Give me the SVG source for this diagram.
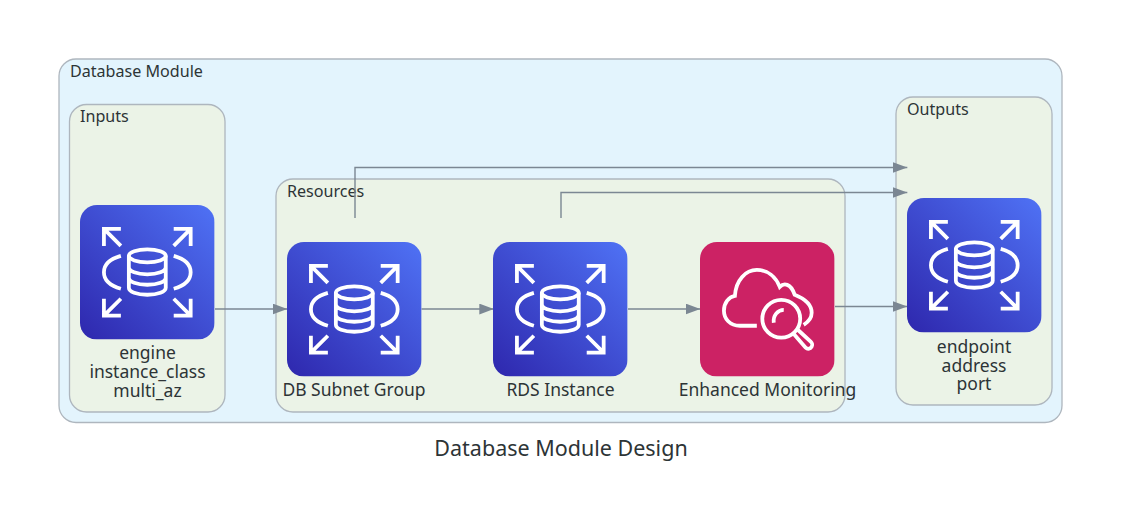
<svg xmlns="http://www.w3.org/2000/svg" width="1121" height="516" viewBox="0 0 1121 516">
<style>
text{font-family:"Noto Sans","DejaVu Sans",sans-serif;fill:#2d3436}
.c{fill:#ebf3e7;stroke:#aeb6be;stroke-width:1.3}
.o{fill:#e3f4fd;stroke:#aeb6be;stroke-width:1.3}
.cl{font-size:16.100px}
.n{font-size:17.500px;text-anchor:middle}
.e{fill:none;stroke:#7b8793;stroke-width:1.4}
.i{fill:none;stroke:#fff;stroke-width:3.800}
</style>
<defs>
<linearGradient id="rdsg" x1="0" y1="1" x2="1" y2="0"><stop offset="0" stop-color="#2e27ad"/><stop offset="1" stop-color="#4f72f5"/></linearGradient>
<marker id="ah" markerUnits="userSpaceOnUse" markerWidth="15" markerHeight="11" refX="14.5" refY="5.4" orient="auto"><path d="M0,0L14.5,5.4L0,10.8z" fill="#7b8793"/></marker>
<symbol id="rds" width="134.600" height="134.600" viewBox="0 0 135 135">
<rect width="135" height="135" rx="17" fill="url(#rdsg)"/>
<g class="i">
<path d="M24,41V24H41M24,24L41,41M111,41V24H94M111,24L94,41M24,94V111H41M24,111L41,94M111,94V111H94M111,111L94,94"/>
<path d="M41,51C30,54 24,60 24,67.5C24,75 30,81 41,84M94,51C105,54 111,60 111,67.5C111,75 105,81 94,84"/>
<ellipse cx="67.5" cy="51" rx="18.500" ry="6.500"/>
<path d="M49,51V83C49,87 57,90 67.500,90C78,90 86,87 86,83V51M49,62.500C49,66.500 57,69.500 67.500,69.500C78,69.500 86,66.500 86,62.500M49,73C49,77 57,80 67.500,80C78,80 86,77 86,73"/>
</g>
</symbol>
<symbol id="mon" width="134.600" height="134.600" viewBox="0 0 135 135">
<rect width="135" height="135" rx="17" fill="#cc2264"/>
<g class="i">
<path d="M57,84H40C30,84 24,77 24,69C24,61 29,55 35,54C36,38 46,28 57,28C68,28 76,35 80,45C84,41 91,41 95,53C105,57 112,62 112,71C112,76 109,80 104,83"/>
<circle cx="81.500" cy="77" r="19"/>
<path d="M84,68C78,68 73,74 74,81"/>
<path d="M93,91L106,106C108,108 111,107 112,105C113,103 113,102 111,100L97,87"/>
</g>
</symbol>
</defs>
<g id="cluster-database-module"><rect class="o" x="59" y="59" width="1003" height="363.500" rx="17"/><text class="cl" x="70" y="76.500">Database Module</text></g>
<g id="cluster-inputs"><rect class="c" x="69.500" y="104.500" width="155.500" height="307.500" rx="17"/><text class="cl" x="80" y="122">Inputs</text></g>
<g id="cluster-resources"><rect class="c" x="276" y="179" width="569" height="233" rx="17"/><text class="cl" x="287" y="196.500">Resources</text></g>
<g id="cluster-outputs"><rect class="c" x="896" y="97" width="156" height="308" rx="17"/><text class="cl" x="907" y="115">Outputs</text></g>
<g id="connectors">
<path class="e" marker-end="url(#ah)" d="M215,309H287.300"/>
<path class="e" marker-end="url(#ah)" d="M421.500,309H493.800"/>
<path class="e" marker-end="url(#ah)" d="M628,309H700.300"/>
<path class="e" marker-end="url(#ah)" d="M835,306.500H907.300"/>
<path class="e" marker-end="url(#ah)" d="M355,218V167.500H907.300"/>
<path class="e" marker-end="url(#ah)" d="M561,218V192.500H907.300"/>
</g>
<g id="node-inputs"><use href="#rds" x="80" y="205"/><text class="n" x="147.500" y="359">engine</text><text class="n" x="147.500" y="378">instance_class</text><text class="n" x="147.500" y="396.500">multi_az</text></g>
<g id="node-db-subnet-group"><use href="#rds" x="287" y="242"/><text class="n" x="354" y="395.500">DB Subnet Group</text></g>
<g id="node-rds-instance"><use href="#rds" x="493" y="242"/><text class="n" x="560.500" y="395.500">RDS Instance</text></g>
<g id="node-enhanced-monitoring"><use href="#mon" x="700" y="242"/><text class="n" x="767.500" y="395.500">Enhanced Monitoring</text></g>
<g id="node-outputs"><use href="#rds" x="907" y="198"/><text class="n" x="974" y="352.500">endpoint</text><text class="n" x="974" y="371.500">address</text><text class="n" x="974" y="390">port</text></g>
<text id="title" x="561" y="455.500" font-size="21.500" text-anchor="middle">Database Module Design</text>
</svg>
